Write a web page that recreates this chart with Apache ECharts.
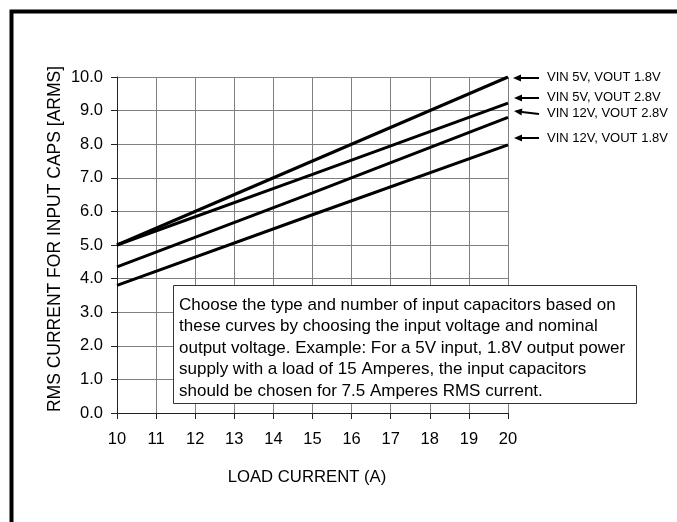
<!DOCTYPE html>
<html>
<head>
<meta charset="utf-8">
<script src="https://cdn.jsdelivr.net/npm/echarts@6/dist/echarts.min.js"></script>
<style>
html,body{margin:0;padding:0;background:#fff;}
#chart{width:677px;height:522px;}
</style>
</head>
<body>
<div id="chart"></div>
<script>
// Load current (A) sample points
var loadCurrent = [10, 15, 20];
// RMS current for input caps (A)
var vin5vout18 = [5.0, 7.5, 10.0];
var vin5vout28 = [5.0, 7.1, 9.22];
var vin12vout28 = [4.35, 6.55, 8.8];
var vin12vout18 = [3.8, 5.9, 7.98];
var seriesNames = ['VIN 5V, VOUT 1.8V', 'VIN 5V, VOUT 2.8V', 'VIN 12V, VOUT 2.8V', 'VIN 12V, VOUT 1.8V'];
var xTitle = 'LOAD CURRENT (A)';
var yTitle = 'RMS CURRENT FOR INPUT CAPS [ARMS]';
var noteLines = [
  'Choose the type and number of input capacitors based on',
  'these curves by choosing the input voltage and nominal',
  'output voltage. Example: For a 5V input, 1.8V output power',
  'supply with a load of 15 Amperes, the input capacitors',
  'should be chosen for 7.5 Amperes RMS current.'
];

var FONT = '"Liberation Sans", Arial, Helvetica, sans-serif';

function pairs(xs, ys) { return xs.map(function (x, i) { return [x, ys[i]]; }); }
var allSeries = [vin5vout18, vin5vout28, vin12vout28, vin12vout18];

var chart = echarts.init(document.getElementById('chart'), null, {renderer: 'canvas'});

// arrows + labels on right
var labelY = [77, 97, 113, 138];
var arrowTail = [[539, 78], [539, 98], [539, 114], [539, 138]];
var arrowHead = [[513, 78], [514, 98], [514, 111], [514, 138]];
var graphics = [];
graphics.push({
  type: 'rect', z: 100,
  shape: {x: 11.5, y: 11.5, width: 720, height: 600},
  style: {fill: 'none', stroke: '#000', lineWidth: 4}
});
for (var i = 0; i < seriesNames.length; i++) {
  var t = arrowTail[i], h = arrowHead[i];
  var dx = h[0] - t[0], dy = h[1] - t[1];
  var len = Math.sqrt(dx * dx + dy * dy);
  var ux = dx / len, uy = dy / len;
  var hl = 8, hw = 3.5;
  var bx = h[0] - ux * hl, by = h[1] - uy * hl;
  graphics.push({
    type: 'line', z: 100,
    shape: {x1: t[0], y1: t[1], x2: bx, y2: by},
    style: {stroke: '#000', lineWidth: 2}
  });
  graphics.push({
    type: 'polygon', z: 100,
    shape: {points: [[h[0], h[1]], [bx - uy * hw, by + ux * hw], [bx + uy * hw, by - ux * hw]]},
    style: {fill: '#000'}
  });
  graphics.push({
    type: 'text', z: 100, x: 547, y: labelY[i],
    style: {text: seriesNames[i], font: '13px ' + FONT, fill: '#000', textAlign: 'left', textVerticalAlign: 'middle'}
  });
}
// note box
graphics.push({
  type: 'rect', z: 100,
  shape: {x: 173.5, y: 285.5, width: 463, height: 118},
  style: {fill: '#fff', stroke: '#333', lineWidth: 1}
});
graphics.push({
  type: 'text', z: 101, x: 179, y: 294.5,
  style: {text: noteLines.join('\n'), font: '17px ' + FONT, lineHeight: 21.5, fill: '#000', textAlign: 'left', textVerticalAlign: 'top'}
});
// axis titles
graphics.push({
  type: 'text', z: 100, x: 55, y: 239, rotation: Math.PI / 2,
  style: {text: yTitle, font: '17.5px ' + FONT, fill: '#000', textAlign: 'center', textVerticalAlign: 'middle'}
});
graphics.push({
  type: 'text', z: 100, x: 307, y: 477,
  style: {text: xTitle, font: '16.7px ' + FONT, fill: '#000', textAlign: 'center', textVerticalAlign: 'middle'}
});

var option = {
  backgroundColor: '#fff',
  animation: false,
  grid: {left: 117, right: 169, top: 77, bottom: 109, containLabel: false},
  xAxis: {
    type: 'value', min: 10, max: 20, interval: 1,
    axisLine: {show: true, onZero: false, lineStyle: {color: '#222', width: 1}},
    axisTick: {show: true, length: 6, lineStyle: {color: '#222'}},
    axisLabel: {margin: 18, fontSize: 16.5, fontFamily: FONT, color: '#000'},
    splitLine: {show: true, lineStyle: {color: '#808080', width: 1}}
  },
  yAxis: {
    type: 'value', min: 0, max: 10, interval: 1,
    axisLine: {show: true, onZero: false, lineStyle: {color: '#222', width: 1}},
    axisTick: {show: true, length: 6, lineStyle: {color: '#222'}},
    axisLabel: {margin: 14, fontSize: 16.5, fontFamily: FONT, color: '#000',
      formatter: function (v) { return v.toFixed(1); }},
    splitLine: {show: true, lineStyle: {color: '#808080', width: 1}}
  },
  series: allSeries.map(function (ys, i) {
    return {
      name: seriesNames[i], type: 'line', data: pairs(loadCurrent, ys),
      symbol: 'none', lineStyle: {color: '#000', width: 3}, z: 5
    };
  }),
  graphic: graphics
};
chart.setOption(option);
</script>
</body>
</html>
